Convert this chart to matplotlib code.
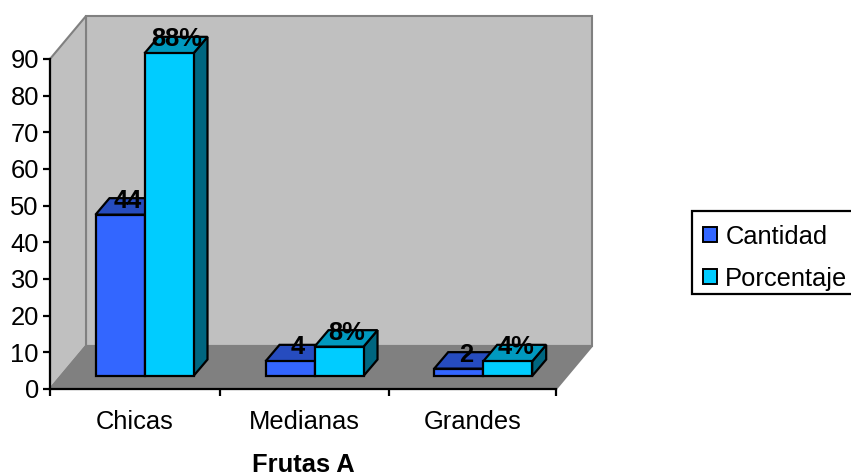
import matplotlib
matplotlib.use("Agg")
import matplotlib.pyplot as plt
from matplotlib.patches import Polygon, Patch, Rectangle

categories = ["Chicas", "Medianas", "Grandes"]
cantidad = [44, 4, 2]
porcentaje = [88, 8, 4]
porcentaje_labels = ["88%", "8%", "4%"]
y_ticks = list(range(0, 100, 10))
axis_title = "Frutas A"

W, H = 851, 474
FS = 18.4
plt.rcParams["font.family"] = ["Liberation Sans", "DejaVu Sans"]

fig = plt.figure(figsize=(W / 100, H / 100), dpi=100)
ax = fig.add_axes([50 / W, 1 - 389 / H, 506 / W, 330 / H])
ax.set_xlim(0, 3)
ax.set_ylim(0, 90)

# Pseudo-3D projection, expressed in data units of the front plane
px_x = 3 / 506
px_y = 90 / 330
depth_x = 36 * px_x
depth_y = 43 * px_y
bar_w = 49 * px_x
bar_depth_x = 14 * px_x
bar_depth_y = 16.5 * px_y
base_y = 13 * px_y
group_pad = 45.5 * px_x  # left edge of the first bar inside its category
cat_edges = [0, 1.008, 2.008, 3]

WALL, FLOOR, EDGE = "#C0C0C0", "#808080", "#808080"
BLUE = ("#3366FF", "#264CBF", "#1F3F9F")
CYAN = ("#00CCFF", "#0099BF", "#006680")


def poly(pts, face, edge="black", lw=1.6, z=3):
    ax.add_patch(Polygon(pts, closed=True, facecolor=face, edgecolor=edge,
                         linewidth=lw, joinstyle="miter", clip_on=False, zorder=z))


def bar(x0, value, colors, z):
    y0 = base_y
    x1 = x0 + bar_w
    y1 = y0 + value
    dx, dy = bar_depth_x, bar_depth_y
    poly([(x1, y0), (x1 + dx, y0 + dy), (x1 + dx, y1 + dy), (x1, y1)], colors[2], z=z)
    poly([(x0, y1), (x0 + dx, y1 + dy), (x1 + dx, y1 + dy), (x1, y1)], colors[1], z=z)
    poly([(x0, y0), (x1, y0), (x1, y1), (x0, y1)], colors[0], z=z)


# Back wall, side wall and floor
poly([(depth_x, depth_y), (3 + depth_x, depth_y), (3 + depth_x, 90 + depth_y), (depth_x, 90 + depth_y)],
     WALL, EDGE, 1.5, 1)
poly([(0, 0), (depth_x, depth_y), (depth_x, 90 + depth_y), (0, 90)], WALL, EDGE, 1.5, 1)
poly([(0, 0), (3, 0), (3 + depth_x, depth_y), (depth_x, depth_y)], FLOOR, EDGE, 1.5, 1)

for i, (a, b, label_b) in enumerate(zip(cantidad, porcentaje, porcentaje_labels)):
    x0 = cat_edges[i] + group_pad
    bar(x0, a, BLUE, 3 + i * 2)
    bar(x0 + bar_w, b, CYAN, 4 + i * 2)
    for x, v, text in ((x0, a, str(a)), (x0 + bar_w, b, label_b)):
        ax.annotate(text, (x + bar_w / 2, base_y + v), xytext=(8, 14),
                    textcoords="offset pixels", ha="center", va="center",
                    fontsize=FS, fontweight="bold", color="black",
                    annotation_clip=False, zorder=20)

# Axes
for side in ("top", "right"):
    ax.spines[side].set_visible(False)
for side in ("left", "bottom"):
    ax.spines[side].set_linewidth(1.6)
    ax.spines[side].set_zorder(15)
ax.patch.set_visible(False)
ax.set_yticks(y_ticks)
ax.set_xticks(cat_edges)
ax.set_xticklabels([])
centers = [(cat_edges[i] + cat_edges[i + 1]) / 2 for i in range(3)]
ax.set_xticks(centers, categories, minor=True)
ax.tick_params(axis="y", length=5, width=1.6, pad=3, labelsize=FS)
ax.tick_params(axis="x", which="major", length=5, width=1.6)
ax.tick_params(axis="x", which="minor", length=0, pad=15, labelsize=FS)
ax.set_xlabel(axis_title, fontsize=FS, fontweight="bold", labelpad=14)

# Legend box runs past the right edge of the figure
fig.add_artist(Rectangle((692 / W, 1 - 294 / H), 170 / W, 83 / H, transform=fig.transFigure,
                         facecolor="white", edgecolor="black", linewidth=1.6))
handles = [Patch(facecolor=BLUE[0], edgecolor="black", linewidth=1.4, label="Cantidad"),
           Patch(facecolor=CYAN[0], edgecolor="black", linewidth=1.4, label="Porcentaje")]
leg = fig.legend(handles=handles, loc="upper left", bbox_to_anchor=(690 / W, 1 - 212 / H),
                 borderaxespad=0, frameon=False,
                 fontsize=FS, handlelength=0.55, handleheight=0.55, handletextpad=0.33,
                 labelspacing=0.70, borderpad=0.5)

fig.savefig("out.png", dpi=100)
